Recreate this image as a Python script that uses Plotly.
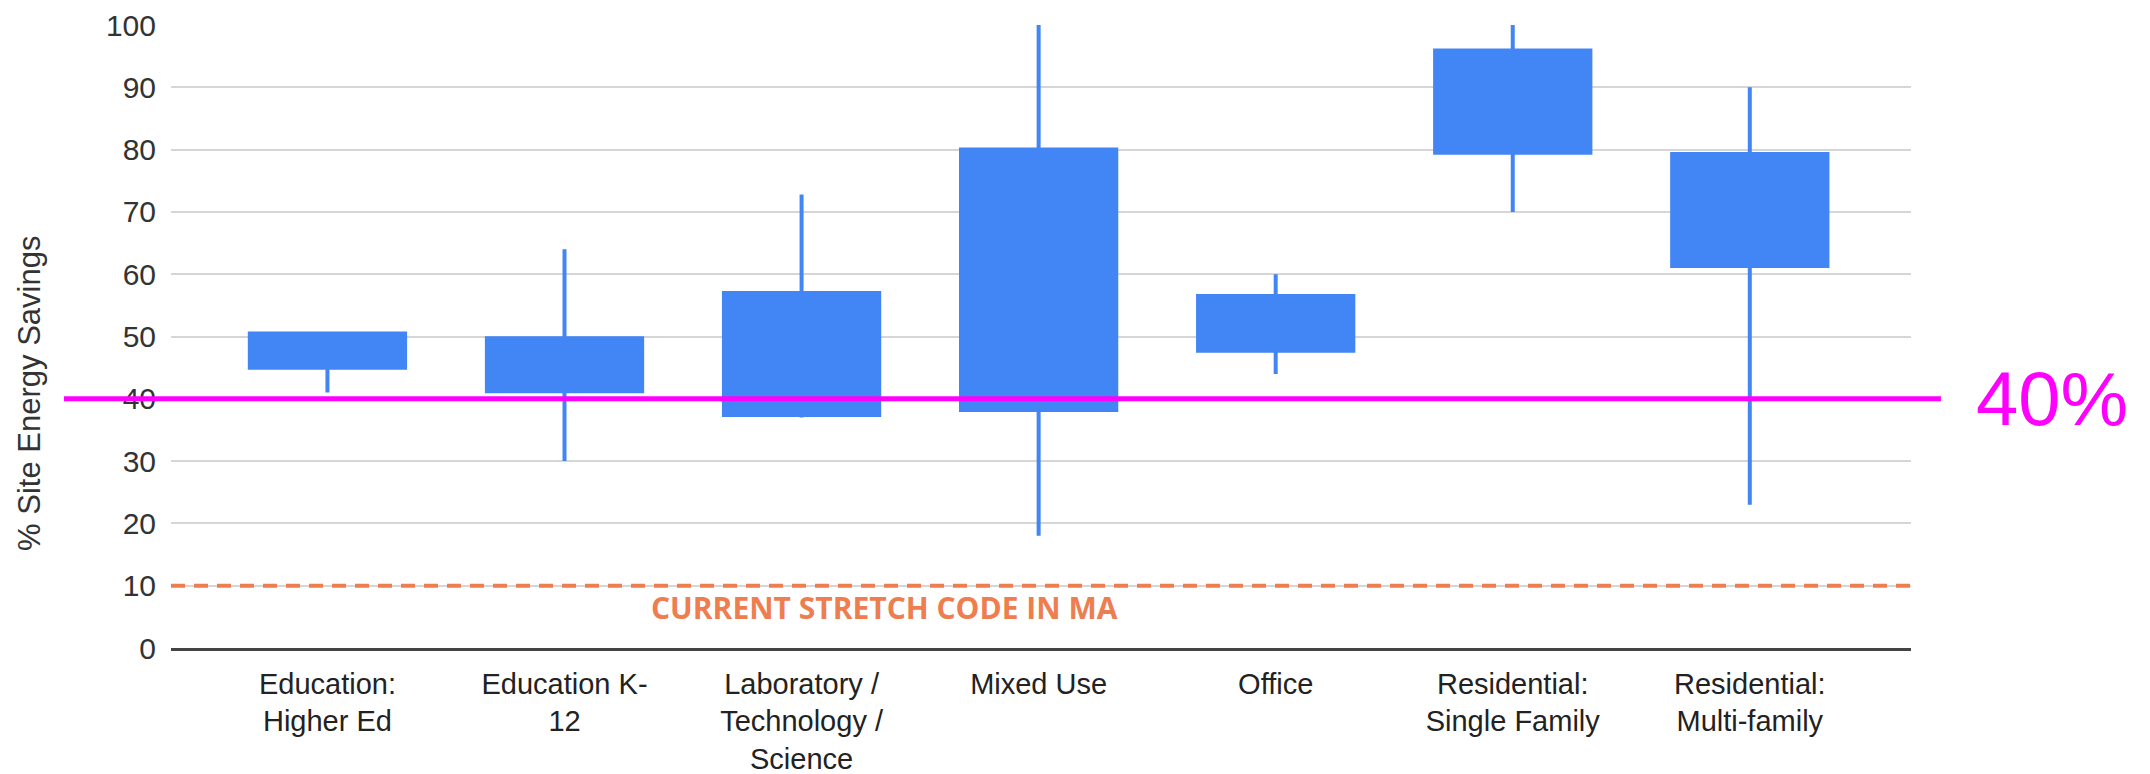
import plotly.graph_objects as go

categories = ["Education:<br>Higher Ed", "Education K-<br>12", "Laboratory /<br>Technology /<br>Science",
              "Mixed Use", "Office", "Residential:<br>Single Family", "Residential:<br>Multi-family"]
low = [41, 30, 37, 18, 44, 70, 23]
box_bottom = [45.0, 41.2, 37.4, 38.2, 47.7, 79.5, 61.3]
box_top = [50.5, 49.7, 57.0, 80.0, 56.5, 95.9, 79.3]
high = [50.5, 64, 72.8, 100, 60, 100, 90]

target_value = 40
target_label = "40%"
stretch_value = 10
stretch_label = "CURRENT STRETCH CODE IN MA"
y_title = "% Site Energy Savings"
y_ticks = list(range(0, 101, 10))

BLUE = "#4285F4"
ORANGE = "#EE7D50"
MAGENTA = "#FF00FF"

fig = go.Figure()
fig.add_trace(go.Box(
    x=categories, q1=box_bottom, median=box_bottom, q3=box_top,
    lowerfence=low, upperfence=high,
    width=0.655, whiskerwidth=0,
    fillcolor=BLUE, line=dict(color=BLUE, width=4),
    hoverinfo="skip", showlegend=False,
))

fig.add_shape(type="line", xref="paper", yref="y", x0=0, x1=1, y0=stretch_value, y1=stretch_value,
              line=dict(color=ORANGE, width=4, dash="14px,9px"), layer="above")
fig.add_shape(type="line", xref="paper", yref="y", x0=-0.0615, x1=1.0172, y0=target_value, y1=target_value,
              line=dict(color=MAGENTA, width=5), layer="above")

fig.add_annotation(xref="paper", yref="y", x=0.410, y=6.5, text=stretch_label, showarrow=False,
                   xanchor="center", yanchor="middle",
                   font=dict(family="Open Sans", size=30, color=ORANGE, weight="bold"))
fig.add_annotation(xref="paper", yref="y", x=1.036, y=target_value, text=target_label, showarrow=False,
                   xanchor="left", yanchor="middle",
                   font=dict(family="Liberation Sans", size=76, color=MAGENTA))
fig.add_annotation(xref="paper", yref="paper", x=-0.081, y=0.408, text=y_title, showarrow=False,
                   textangle=-90, xanchor="center", yanchor="middle",
                   font=dict(family="Liberation Sans", size=31, color="#333333"))

fig.update_layout(
    width=2150, height=774,
    margin=dict(l=163, r=247, t=17, b=134, autoexpand=False),
    paper_bgcolor="white", plot_bgcolor="white",
    font=dict(family="Liberation Sans", color="#222222"),
    xaxis=dict(type="category", range=[-0.66, 6.68], showgrid=False, showline=True,
               linecolor="#444444", linewidth=2.5, ticks="", ticklabelstandoff=8,
               tickfont=dict(size=29, color="#222222"),
               zeroline=False, fixedrange=True),
    yaxis=dict(range=[0, 100], tickvals=y_ticks, showgrid=True, gridcolor="#d6d6d6", gridwidth=2,
               zeroline=False, ticks="", ticklabelstandoff=14, ticklabeloverflow="allow",
               tickfont=dict(size=30, color="#333333"), fixedrange=True),
)

fig.write_html("out.html")
